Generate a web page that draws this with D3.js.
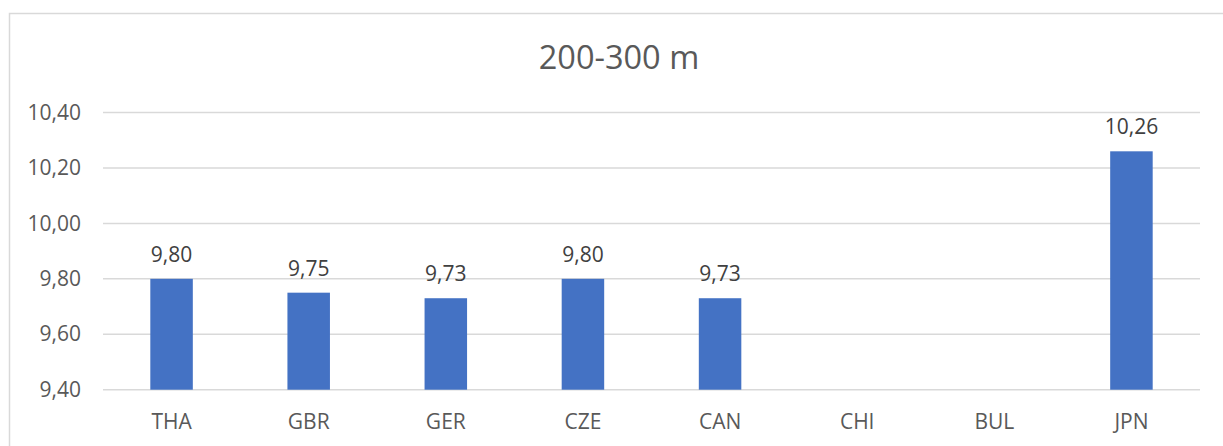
<!DOCTYPE html>
<html>
<head>
<meta charset="utf-8">
<script src="https://cdn.jsdelivr.net/npm/d3@7"></script>
<style>
  html, body { margin: 0; padding: 0; background: #fff; }
  svg { display: block; font-family: "Open Sans", sans-serif; }
</style>
</head>
<body>
<svg id="chart" width="1223" height="446"></svg>
<script>
// Chart data
const title = "200-300 m";
const categories = ["THA", "GBR", "GER", "CZE", "CAN", "CHI", "BUL", "JPN"];
const values = [9.80, 9.75, 9.73, 9.80, 9.73, null, null, 10.26];
const yTicks = [9.40, 9.60, 9.80, 10.00, 10.20, 10.40];

const fmt = v => v.toFixed(2).replace(".", ",");

const svg = d3.select("#chart");
const W = 1223, H = 446;
const margin = { left: 103, right: 23, top: 112.5, bottom: 56.3 };

// Outer chart frame
svg.append("rect")
  .attr("x", 9.5).attr("y", 13.5)
  .attr("width", 1240).attr("height", 460)
  .attr("fill", "none").attr("stroke", "#d9d9d9").attr("stroke-width", 1.5);

const x = d3.scaleBand()
  .domain(categories)
  .range([margin.left, W - margin.right])
  .paddingInner(0.69).paddingOuter(0.345);

const y = d3.scaleLinear()
  .domain([9.40, 10.40])
  .range([H - margin.bottom, margin.top]);

// Horizontal gridlines
svg.append("g")
  .selectAll("line")
  .data(yTicks)
  .join("line")
  .attr("x1", margin.left).attr("x2", W - margin.right)
  .attr("y1", d => y(d)).attr("y2", d => y(d))
  .attr("stroke", "#d9d9d9").attr("stroke-width", 1.5);

// Y axis labels
const yAxis = d3.axisLeft(y).tickValues(yTicks).tickFormat(fmt).tickSize(0).tickPadding(0);
const gy = svg.append("g").attr("transform", "translate(81,0)").call(yAxis);
gy.select(".domain").remove();
gy.selectAll("text")
  .attr("fill", "#595959").attr("font-size", 21)
  .attr("font-family", "Open Sans, sans-serif");

// X axis labels
const xAxis = d3.axisBottom(x).tickSize(0).tickPadding(0);
const gx = svg.append("g").attr("transform", `translate(0,${H - margin.bottom})`).call(xAxis);
gx.select(".domain").remove();
gx.selectAll("text")
  .attr("fill", "#595959").attr("font-size", 21)
  .attr("font-family", "Open Sans, sans-serif")
  .attr("dy", null).attr("y", 39);

const data = categories.map((c, i) => ({ c, v: values[i] })).filter(d => d.v != null);

// Bars
svg.append("g")
  .selectAll("rect")
  .data(data)
  .join("rect")
  .attr("x", d => x(d.c))
  .attr("width", x.bandwidth())
  .attr("y", d => y(d.v))
  .attr("height", d => y(9.40) - y(d.v))
  .attr("fill", "#4472c4");

// Value labels
svg.append("g")
  .selectAll("text")
  .data(data)
  .join("text")
  .attr("x", d => x(d.c) + x.bandwidth() / 2)
  .attr("y", d => y(d.v) - 17)
  .attr("text-anchor", "middle")
  .attr("fill", "#404040").attr("font-size", 21)
  .text(d => fmt(d.v));

// Title
svg.append("text")
  .attr("x", 619).attr("y", 69)
  .attr("text-anchor", "middle")
  .attr("fill", "#595959").attr("font-size", 32.5)
  .text(title);
</script>
</body>
</html>
